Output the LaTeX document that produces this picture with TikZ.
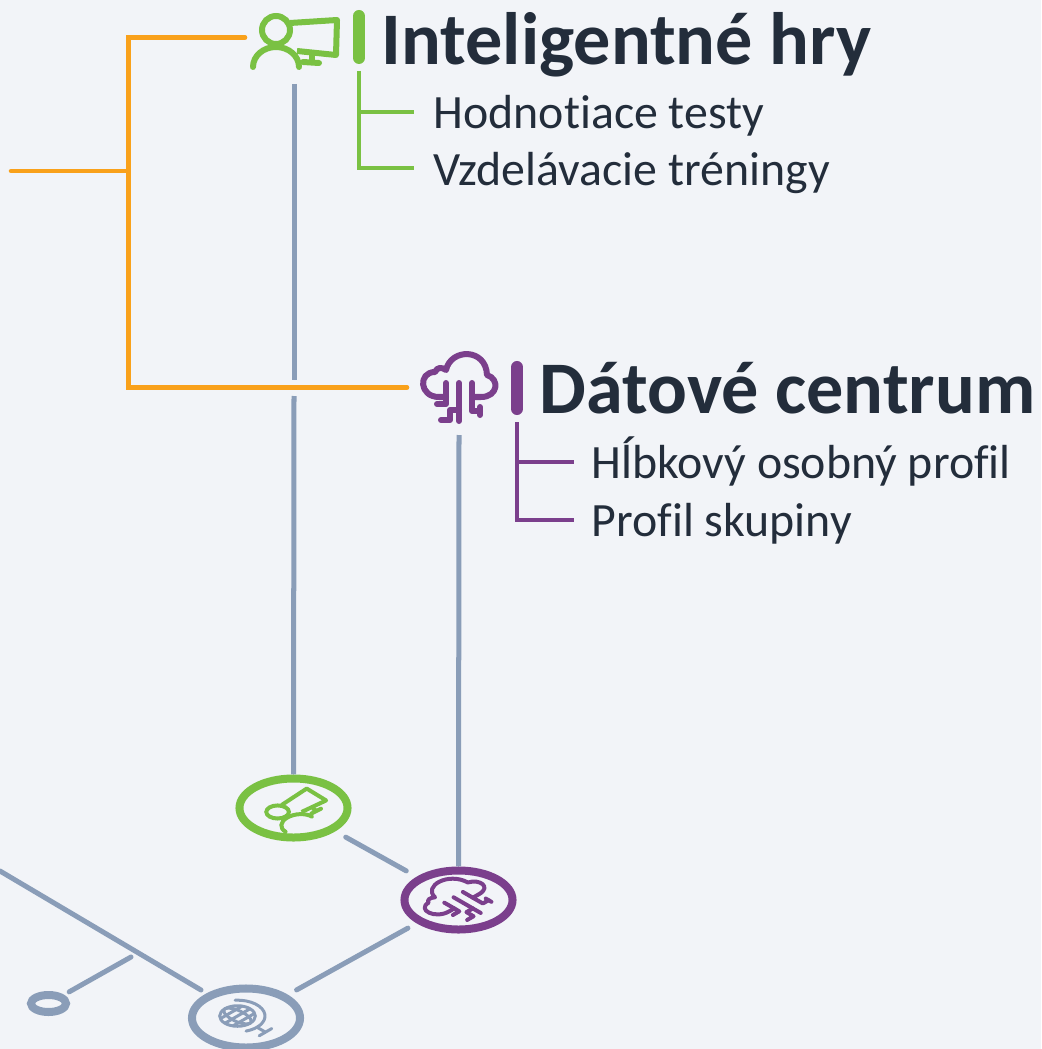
\documentclass[tikz,border=0pt]{standalone}
\usepackage{fontspec}
\setmainfont[Ligatures=NoCommon]{Carlito}
\usetikzlibrary{shapes.geometric}
\definecolor{pagebg}{HTML}{F2F4F8}
\definecolor{inkdark}{HTML}{232D3B}
\definecolor{branchorange}{HTML}{F9A11B}
\definecolor{gamesgreen}{HTML}{7AC143}
\definecolor{datapurple}{HTML}{7B3F8C}
\definecolor{spokegrey}{HTML}{8A9DB8}
\tikzset{
    titletext/.style={anchor=base west,inner sep=0pt,text=inkdark,font=\fontsize{21.1}{25}\selectfont\bfseries},
    itemtext/.style={anchor=base west,inner sep=0pt,text=inkdark,font=\fontsize{13.6}{16}\selectfont},
    branch/.style={draw=branchorange,line width=0.045cm,line cap=round},
    spoke/.style={draw=spokegrey,line width=0.05cm,line cap=round},
    groundnode/.style={ellipse,draw=#1,line width=0.08cm,fill=pagebg,minimum width=1.08cm,minimum height=0.59cm,inner sep=0pt},
    titlebar/.style={draw=#1,line width=0.12cm,line cap=round},
    itemline/.style={draw=#1,line width=0.04cm},
    groundplane/.style={x={(0.0057cm,0.0033cm)},y={(0.0057cm,-0.0033cm)}}
}
\newcommand{\personicon}[1]{
    \draw[#1] (-18,-9) circle (14);
    \draw[#1,line cap=round] (-41,28) arc (180:360:23 and 20);
    \draw[#1,line join=round] (-4,-16) -- (43,-19) -- (42,16) -- (3,12);
    \draw[#1,line cap=round] (9,23) -- (25,24);
    \draw[#1] (18,16) -- (18,23);
}
\newcommand{\cloudicon}[1]{
    \draw[#1,line cap=round,line join=round] (-13,5) -- (-20,5)
        .. controls (-40,5) and (-41,-20) .. (-24,-20)
        .. controls (-22,-25) and (-17,-25) .. (-13,-22)
        .. controls (-8,-44) and (27,-44) .. (28,-17)
        .. controls (41,-13) and (39,5) .. (22,5) -- (13,5);
    \draw[#1,line cap=round,line join=round] (-13,-9) -- (-13,12) -- (-22,12);
    \draw[#1,line cap=round] (0,-9) -- (0,29);
    \draw[#1,line cap=round,line join=round] (13,-9) -- (13,19) -- (21,19);
    \draw[#1,line cap=round] (21,15) -- (21,23);
    \draw[#1,line cap=round,line join=round] (0,18) -- (-9,18) -- (-9,28) -- (-18,28);
}
\newcommand{\globeicon}[1]{
    \draw[#1] (0,0) circle (22);
    \draw[#1] (0,0) ellipse (10 and 22);
    \draw[#1] (-22,0) -- (22,0);
    \draw[#1] (-19,-11) -- (19,-11);
    \draw[#1] (-19,11) -- (19,11);
    \draw[#1,line cap=round] (21.9,-26) arc (-50:117:34);
    \draw[#1] (0,33) -- (0,49);
    \draw[#1,line cap=round] (-11,49) -- (11,49);
}
\begin{document}
\begin{tikzpicture}[x=0.01cm,y=-0.01cm]
    \useasboundingbox (0,0) rectangle (1041,1049);
    \clip (0,0) rectangle (1041,1049);
    \fill[pagebg] (0,0) rectangle (1041,1049);

    % Bottom nodes
    \node[groundnode=gamesgreen] (gamesbase) at (293.5,808) {};
    \node[groundnode=datapurple] (database) at (458.5,900) {};
    \node[groundnode=spokegrey] (globebase) at (246,1018) {};
    \node[ellipse,draw=spokegrey,line width=0.08cm,minimum width=0.35cm,minimum height=0.17cm,inner sep=0pt] (smallbase) at (48.5,1003.5) {};

    \coordinate (leftedge) at (0,871);
    \coordinate (spokeend) at (201,990);
    \coordinate (forkstart) at (131,957);
    \draw[spoke,shorten <=0.12cm,shorten >=0.12cm] (gamesbase) -- (database);
    \draw[spoke,shorten <=0.1cm,shorten >=0.1cm] (database) -- (globebase);
    \draw[spoke] (leftedge) -- (spokeend);
    \draw[spoke,shorten >=0.06cm] (forkstart) -- (smallbase);

    % Vertical lines
    \coordinate (gamesfoot) at (294,84);
    \coordinate (gapabove) at (294,380);
    \coordinate (gapbelow) at (294,396);
    \coordinate (datafoot) at (459,435);
    \draw[spoke,line cap=butt] (gamesfoot) -- (gapabove);
    \draw[spoke,line cap=butt] (gapbelow) -- (gamesbase.north);
    \draw[spoke,line cap=butt] (datafoot) -- (database.north);

    % Orange bracket
    \coordinate (rootend) at (11,171);
    \coordinate (bracketmid) at (128.5,171);
    \coordinate (gamesend) at (245,37.5);
    \coordinate (dataend) at (407,387.5);
    \draw[branch] (rootend) -- (bracketmid);
    \draw[branch] (gamesend) -| (bracketmid) |- (dataend);

    % Top icons
    \begin{scope}[shift={(294,39)}]
        \personicon{draw=gamesgreen,line width=0.06cm}
    \end{scope}
    \begin{scope}[shift={(459,392)}]
        \cloudicon{draw=datapurple,line width=0.06cm}
    \end{scope}

    % Bottom icons
    \begin{scope}[shift={(293,809)},groundplane]
        \personicon{draw=gamesgreen,line width=0.04cm}
    \end{scope}
    \begin{scope}[shift={(460,901)},groundplane,scale=1.25]
        \cloudicon{draw=datapurple,line width=0.04cm}
    \end{scope}
    \begin{scope}[shift={(237.5,1016)},groundplane]
        \globeicon{draw=spokegrey,line width=0.03cm}
    \end{scope}

    % Titles
    \draw[titlebar=gamesgreen] (359,16) -- (359,58);
    \draw[titlebar=datapurple] (517,367) -- (517,409);
    \node[titletext] (gamestitle) at (381,65) {Inteligentné hry};
    \node[titletext] (datatitle) at (539,413) {Dátové centrum};

    % Items
    \node[itemtext] (testitem) at (433,129) {Hodnotiace testy};
    \node[itemtext] (trainitem) at (433,186) {Vzdelávacie tréningy};
    \node[itemtext] (profileitem) at (591,478) {Hĺbkový osobný profil};
    \node[itemtext] (groupitem) at (591,536) {Profil skupiny};

    \coordinate (gamesstem) at (359,71);
    \coordinate (gamesfork) at (359,112);
    \coordinate (datastem) at (517,422);
    \coordinate (datafork) at (517,462);
    \draw[itemline=gamesgreen] (gamesstem) |- (414,168);
    \draw[itemline=gamesgreen] (gamesfork) -- (414,112);
    \draw[itemline=datapurple] (datastem) |- (574,520);
    \draw[itemline=datapurple] (datafork) -- (574,462);
\end{tikzpicture}
\end{document}
